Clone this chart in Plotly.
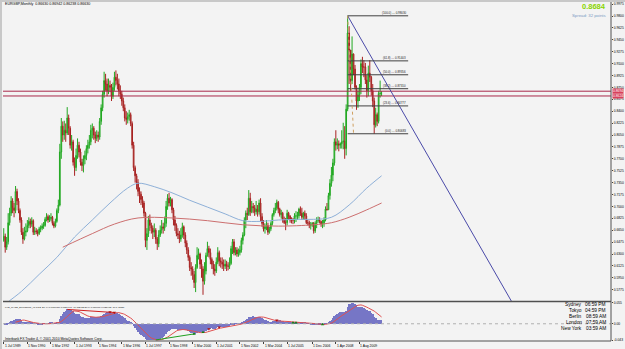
import plotly.graph_objects as go
import pandas as pd

W, H = 625, 349

# ---------------- data (monthly EURGBP, Jul 1989 .. Nov 2010) ----------------
first_open = 0.650
close = [
    0.656, 0.640, 0.648, 0.676, 0.690, 0.708,
    0.698, 0.694, 0.722, 0.708, 0.694, 0.680, 0.662, 0.652, 0.662, 0.664, 0.672, 0.678,
    0.674, 0.679, 0.662, 0.664, 0.663, 0.660, 0.667, 0.668, 0.671, 0.672, 0.681, 0.685,
    0.680, 0.682, 0.684, 0.675, 0.671, 0.678, 0.694, 0.702, 0.780, 0.818, 0.805, 0.812,
    0.808, 0.830, 0.815, 0.790, 0.795, 0.765, 0.757, 0.775, 0.790, 0.780, 0.765, 0.760,
    0.770, 0.775, 0.785, 0.790, 0.795, 0.812, 0.815, 0.805, 0.800, 0.805, 0.802, 0.825,
    0.845, 0.865, 0.885, 0.880, 0.870, 0.878, 0.875, 0.862, 0.875, 0.890, 0.885, 0.880,
    0.870, 0.865, 0.855, 0.845, 0.830, 0.828, 0.832, 0.835, 0.822, 0.790, 0.757, 0.745,
    0.735, 0.722, 0.718, 0.710, 0.705, 0.690, 0.650, 0.660, 0.680, 0.672, 0.668, 0.662,
    0.665, 0.652, 0.645, 0.658, 0.665, 0.670, 0.668, 0.675, 0.700, 0.712, 0.705, 0.710,
    0.695, 0.680, 0.672, 0.660, 0.658, 0.652, 0.658, 0.670, 0.658, 0.646, 0.636, 0.625,
    0.610, 0.608, 0.600, 0.588, 0.610, 0.628, 0.630, 0.615, 0.608, 0.590, 0.605, 0.628,
    0.638, 0.632, 0.622, 0.615, 0.608, 0.605, 0.618, 0.632, 0.620, 0.618, 0.615, 0.612,
    0.615, 0.612, 0.612, 0.616, 0.638, 0.648, 0.632, 0.636, 0.630, 0.632, 0.636, 0.650,
    0.658, 0.680, 0.690, 0.688, 0.712, 0.692, 0.700, 0.698, 0.692, 0.696, 0.692, 0.705,
    0.685, 0.675, 0.667, 0.670, 0.672, 0.662, 0.667, 0.675, 0.688, 0.694, 0.698, 0.706,
    0.696, 0.688, 0.690, 0.680, 0.676, 0.676, 0.690, 0.686, 0.680, 0.680, 0.680, 0.686,
    0.686, 0.686, 0.696, 0.690, 0.684, 0.690, 0.686, 0.676, 0.676, 0.672, 0.673, 0.675,
    0.664, 0.675, 0.680, 0.680, 0.678, 0.674, 0.675, 0.680, 0.696, 0.695, 0.716, 0.734,
    0.746, 0.764, 0.795, 0.790, 0.792, 0.790, 0.792, 0.795, 0.796, 0.785, 0.843, 0.955,
    0.930, 0.885, 0.924, 0.902, 0.875, 0.855, 0.864, 0.875, 0.910, 0.905, 0.905, 0.886,
    0.870, 0.896, 0.890, 0.870, 0.855, 0.820, 0.835, 0.825, 0.866, 0.8663, 0.8663,
]
high = [
    0.668, 0.660, 0.655, 0.690, 0.698, 0.715,
    0.712, 0.705, 0.730, 0.726, 0.712, 0.697, 0.684, 0.668, 0.670, 0.675, 0.680, 0.684,
    0.682, 0.684, 0.681, 0.670, 0.668, 0.666, 0.670, 0.672, 0.675, 0.677, 0.684, 0.690,
    0.688, 0.687, 0.690, 0.686, 0.678, 0.682, 0.697, 0.710, 0.792, 0.830, 0.825, 0.826,
    0.822, 0.846, 0.835, 0.818, 0.805, 0.798, 0.772, 0.785, 0.800, 0.795, 0.785, 0.770,
    0.775, 0.782, 0.790, 0.798, 0.805, 0.820, 0.822, 0.818, 0.810, 0.812, 0.810, 0.830,
    0.850, 0.870, 0.898, 0.895, 0.888, 0.888, 0.885, 0.880, 0.882, 0.898, 0.900, 0.895,
    0.888, 0.878, 0.870, 0.860, 0.850, 0.840, 0.838, 0.842, 0.838, 0.825, 0.795, 0.760,
    0.748, 0.740, 0.728, 0.722, 0.715, 0.708, 0.692, 0.668, 0.686, 0.688, 0.676, 0.672,
    0.675, 0.668, 0.655, 0.665, 0.672, 0.680, 0.676, 0.685, 0.708, 0.718, 0.720, 0.714,
    0.712, 0.698, 0.686, 0.675, 0.668, 0.664, 0.668, 0.676, 0.672, 0.662, 0.650, 0.640,
    0.628, 0.618, 0.612, 0.605, 0.615, 0.640, 0.638, 0.632, 0.622, 0.612, 0.618, 0.632,
    0.648, 0.642, 0.638, 0.625, 0.620, 0.615, 0.625, 0.640, 0.635, 0.625, 0.625, 0.622,
    0.622, 0.620, 0.618, 0.625, 0.642, 0.652, 0.652, 0.640, 0.640, 0.638, 0.642, 0.654,
    0.662, 0.684, 0.694, 0.698, 0.724, 0.720, 0.708, 0.705, 0.702, 0.708, 0.702, 0.710,
    0.712, 0.690, 0.680, 0.675, 0.680, 0.676, 0.670, 0.678, 0.690, 0.698, 0.705, 0.710,
    0.708, 0.698, 0.695, 0.692, 0.685, 0.683, 0.695, 0.692, 0.687, 0.684, 0.683, 0.690,
    0.693, 0.692, 0.698, 0.700, 0.698, 0.692, 0.694, 0.690, 0.680, 0.679, 0.677, 0.677,
    0.677, 0.678, 0.684, 0.685, 0.684, 0.679, 0.680, 0.684, 0.700, 0.705, 0.720, 0.740,
    0.758, 0.770, 0.800, 0.812, 0.800, 0.797, 0.794, 0.812, 0.823, 0.818, 0.850, 0.9803,
    0.965, 0.920, 0.950, 0.925, 0.908, 0.878, 0.870, 0.880, 0.916, 0.920, 0.915, 0.911,
    0.893, 0.907, 0.915, 0.892, 0.880, 0.860, 0.845, 0.838, 0.870, 0.885, 0.8694,
]
low = [
    0.648, 0.632, 0.636, 0.644, 0.672, 0.686,
    0.690, 0.684, 0.690, 0.702, 0.690, 0.676, 0.658, 0.645, 0.650, 0.656, 0.662, 0.668,
    0.668, 0.670, 0.658, 0.658, 0.659, 0.656, 0.658, 0.662, 0.665, 0.667, 0.670, 0.678,
    0.676, 0.677, 0.678, 0.672, 0.668, 0.669, 0.676, 0.690, 0.700, 0.770, 0.795, 0.798,
    0.795, 0.805, 0.805, 0.785, 0.782, 0.760, 0.745, 0.752, 0.770, 0.772, 0.760, 0.752,
    0.750, 0.762, 0.768, 0.778, 0.785, 0.790, 0.800, 0.798, 0.793, 0.796, 0.795, 0.798,
    0.820, 0.840, 0.860, 0.870, 0.862, 0.865, 0.868, 0.855, 0.858, 0.870, 0.878, 0.872,
    0.862, 0.858, 0.848, 0.840, 0.825, 0.820, 0.822, 0.826, 0.818, 0.785, 0.752, 0.735,
    0.725, 0.715, 0.705, 0.702, 0.698, 0.685, 0.640, 0.636, 0.655, 0.664, 0.660, 0.652,
    0.655, 0.645, 0.636, 0.640, 0.655, 0.660, 0.660, 0.664, 0.670, 0.695, 0.700, 0.700,
    0.690, 0.672, 0.664, 0.656, 0.652, 0.646, 0.648, 0.654, 0.652, 0.640, 0.630, 0.620,
    0.605, 0.598, 0.592, 0.580, 0.574, 0.608, 0.622, 0.608, 0.595, 0.570, 0.585, 0.600,
    0.626, 0.625, 0.615, 0.608, 0.600, 0.598, 0.602, 0.615, 0.612, 0.610, 0.608, 0.605,
    0.608, 0.605, 0.606, 0.608, 0.614, 0.630, 0.628, 0.628, 0.626, 0.626, 0.628, 0.632,
    0.644, 0.656, 0.668, 0.680, 0.686, 0.686, 0.690, 0.690, 0.686, 0.688, 0.685, 0.688,
    0.678, 0.670, 0.663, 0.660, 0.665, 0.658, 0.660, 0.664, 0.672, 0.685, 0.690, 0.694,
    0.690, 0.685, 0.682, 0.676, 0.674, 0.665, 0.672, 0.680, 0.676, 0.675, 0.674, 0.675,
    0.677, 0.680, 0.682, 0.686, 0.680, 0.680, 0.680, 0.674, 0.672, 0.668, 0.666, 0.670,
    0.660, 0.661, 0.668, 0.676, 0.675, 0.670, 0.668, 0.670, 0.678, 0.694, 0.695, 0.710,
    0.729, 0.737, 0.760, 0.782, 0.784, 0.781, 0.785, 0.785, 0.784, 0.770, 0.775, 0.840,
    0.880, 0.870, 0.880, 0.893, 0.872, 0.842, 0.845, 0.855, 0.865, 0.896, 0.890, 0.880,
    0.860, 0.862, 0.883, 0.863, 0.846, 0.8068, 0.816, 0.818, 0.822, 0.860, 0.8624,
]

# moving averages (month index, price)
ma_blue_idx = [0, 12, 24, 36, 48, 60, 72, 84, 91, 102, 114, 126, 138, 150, 162, 174, 186, 198, 210, 222, 234, 246, 256]
ma_blue_val = [0.555, 0.575, 0.600, 0.625, 0.655, 0.680, 0.705, 0.727, 0.734, 0.729, 0.720, 0.709, 0.699, 0.689, 0.679, 0.678, 0.680, 0.681, 0.681, 0.684, 0.702, 0.727, 0.745]
ma_red_idx = [40, 60, 75, 91, 114, 138, 162, 186, 210, 222, 234, 246, 256]
ma_red_val = [0.640, 0.660, 0.674, 0.683, 0.683, 0.679, 0.673, 0.671, 0.673, 0.676, 0.684, 0.695, 0.705]

# time-axis labels
label_idx = [0, 16, 32, 48, 64, 80, 96, 112, 128, 144, 160, 176, 192, 209, 225, 241]
label_text = ["1 Jul 1989", "1 Nov 1990", "1 Mar 1992", "1 Jul 1993", "1 Nov 1994", "1 Mar 1996",
              "1 Jul 1997", "1 Nov 1998", "1 Mar 2000", "1 Jul 2001", "1 Nov 2002", "1 Mar 2004",
              "1 Jul 2005", "1 Dec 2006", "1 Apr 2008", "1 Aug 2009"]

# price-axis ticks
price_ticks = [0.5600 + 0.0175 * k for k in range(26)]

# fibonacci retracement
fib_start_idx, fib_end_idx = 233, 274
fib_high, fib_low = 0.98030, 0.80683
fib_levels = [100.0, 61.8, 50.0, 38.2, 23.6, 0.0]
fib_diag_idx = [233, 237]

# trend line and horizontal lines
trend_idx = [233, 350]
trend_price = [0.98030, 0.5377]
hlines = [0.86942, 0.86238]

# divergence marks (month indices)
div_red_idx = [43, 75]
div_green_idx = [103, 129]
mark_red_idx = [72, 75, 139, 146, 185]
mark_green_idx = [129, 135, 196, 198, 216]

title_text = "EURGBP,Monthly  0.86630 0.86942 0.86238 0.86630"
macd_title = "FXS_MACD_Divergence_v1.1(12, 26, 9) 0.0109089 0.0214649  MACD(12,26,9) 0.010909 0.021465  Pr k: Close"
copyright_text = "Interbank FX Trader 4, \u00a9 2001-2010 MetaQuotes Software Corp."
bid_text = "0.8684"
spread_text = "Spread: 32 points"
clock_names = ["Sydney", "Tokyo", "Berlin", "London", "New York"]
clock_times = ["06:59 PM", "04:59 PM", "08:59 AM", "07:59 AM", "03:59 AM"]

# ---------------- derived ----------------
n = len(close)
idx = list(range(n))
opens = [first_open] + close[:-1]
s = pd.Series(close)
macd = s.ewm(span=12, adjust=False).mean() - s.ewm(span=26, adjust=False).mean()
signal = macd.rolling(9).mean()

FONT = "Liberation Sans, Arial, sans-serif"
X_LEFT, X_RIGHT = 3, 611
MAIN_TOP, MAIN_BOT = 2, 301
SUB_TOP, SUB_BOT = 302, 341
PX_PER_BAR = 1.476
x_range = [-0.5, -0.5 + (X_RIGHT - X_LEFT) / PX_PER_BAR]
PPX = 0.0175 / 11.9  # price per pixel
y_range = [0.98 - (MAIN_BOT - 16) * PPX, 0.98 + (16 - MAIN_TOP) * PPX]


def px(x):
    return x / W


def py(y):
    return 1 - y / H


fig = go.Figure()

fig.add_trace(go.Candlestick(
    x=idx, open=opens, high=high, low=low, close=close,
    increasing=dict(line=dict(color="#22a822", width=1), fillcolor="#90d890"),
    decreasing=dict(line=dict(color="#a82222", width=1), fillcolor="#b88a6a"),
    whiskerwidth=0, xaxis="x", yaxis="y", showlegend=False, hoverinfo="skip"))

fig.add_trace(go.Scatter(x=ma_blue_idx, y=ma_blue_val, mode="lines", line=dict(color="#8eb0d8", width=1),
                         line_shape="spline", xaxis="x", yaxis="y", showlegend=False, hoverinfo="skip"))
fig.add_trace(go.Scatter(x=ma_red_idx, y=ma_red_val, mode="lines", line=dict(color="#cc6f6f", width=1),
                         line_shape="spline", xaxis="x", yaxis="y", showlegend=False, hoverinfo="skip"))

for lv in hlines:
    fig.add_trace(go.Scatter(x=x_range, y=[lv, lv], mode="lines", line=dict(color="#a8284a", width=1),
                             xaxis="x", yaxis="y", showlegend=False, hoverinfo="skip"))

fig.add_trace(go.Scatter(x=trend_idx, y=trend_price, mode="lines", line=dict(color="#4a4aa8", width=1),
                         xaxis="x", yaxis="y", showlegend=False, hoverinfo="skip"))

fib_prices = [fib_low + (fib_high - fib_low) * lv / 100.0 for lv in fib_levels]
for lv, pr in zip(fib_levels, fib_prices):
    fig.add_trace(go.Scatter(x=[fib_start_idx, fib_end_idx], y=[pr, pr], mode="lines",
                             line=dict(color="#404040", width=1), xaxis="x", yaxis="y",
                             showlegend=False, hoverinfo="skip"))
fig.add_trace(go.Scatter(x=fib_diag_idx, y=[fib_high, fib_low], mode="lines",
                         line=dict(color="#d0a060", width=1, dash="dot"), xaxis="x", yaxis="y",
                         showlegend=False, hoverinfo="skip"))

# MACD pane
fig.add_trace(go.Bar(x=idx, y=macd, marker=dict(color="#7676c6", line=dict(width=0)), width=0.5,
                     xaxis="x2", yaxis="y2", showlegend=False, hoverinfo="skip"))
fig.add_trace(go.Scatter(x=idx, y=signal, mode="lines", line=dict(color="#e05050", width=1),
                         xaxis="x2", yaxis="y2", showlegend=False, hoverinfo="skip"))
fig.add_trace(go.Scatter(x=[x_range[0], x_range[1]], y=[0, 0], mode="lines",
                         line=dict(color="#b0b0b0", width=1, dash="dot"),
                         xaxis="x2", yaxis="y2", showlegend=False, hoverinfo="skip"))
fig.add_trace(go.Scatter(x=div_red_idx, y=[macd[i] for i in div_red_idx], mode="lines",
                         line=dict(color="#d02020", width=1), xaxis="x2", yaxis="y2",
                         showlegend=False, hoverinfo="skip"))
fig.add_trace(go.Scatter(x=div_green_idx, y=[macd[i] for i in div_green_idx], mode="lines",
                         line=dict(color="#20a020", width=1), xaxis="x2", yaxis="y2",
                         showlegend=False, hoverinfo="skip"))
fig.add_trace(go.Scatter(x=mark_red_idx, y=[macd[i] for i in mark_red_idx], mode="markers",
                         marker=dict(color="#b01010", size=3, symbol="triangle-down"),
                         xaxis="x2", yaxis="y2", showlegend=False, hoverinfo="skip"))
fig.add_trace(go.Scatter(x=mark_green_idx, y=[macd[i] for i in mark_green_idx], mode="markers",
                         marker=dict(color="#108010", size=3, symbol="triangle-up"),
                         xaxis="x2", yaxis="y2", showlegend=False, hoverinfo="skip"))

mmax, mmin = float(macd.max()), float(macd.min())
pad = (mmax - mmin) * 0.02

annotations = []
annotations.append(dict(x=px(3), y=py(4.5), xref="paper", yref="paper", text=title_text, showarrow=False,
                        xanchor="left", yanchor="middle", font=dict(family=FONT, size=3.6, color="#000000")))
annotations.append(dict(x=px(608), y=py(6.5), xref="paper", yref="paper", text="<b>" + bid_text + "</b>",
                        showarrow=False, xanchor="right", yanchor="middle",
                        font=dict(family=FONT, size=7.5, color="#8ad400")))
annotations.append(dict(x=px(608), y=py(15), xref="paper", yref="paper", text=spread_text,
                        showarrow=False, xanchor="right", yanchor="middle",
                        font=dict(family=FONT, size=4.3, color="#7c9cc4")))
for lv, pr in zip(fib_levels, fib_prices):
    annotations.append(dict(x=fib_end_idx, y=pr, xref="x", yref="y",
                            text="(%.1f) --- %.5f" % (lv, pr), showarrow=False,
                            xanchor="right", yanchor="bottom", yshift=-1,
                            font=dict(family=FONT, size=2.9, color="#202020")))
for lv in hlines:
    annotations.append(dict(x=px(X_RIGHT + 1), y=lv, xref="paper", yref="y", text="%.4f" % lv,
                            showarrow=False, xanchor="left", yanchor="middle", bgcolor="#d8405a",
                            borderpad=0, font=dict(family=FONT, size=3.3, color="#ffffff")))
for i, t in zip(label_idx, label_text):
    annotations.append(dict(x=i, y=py(345.5), xref="x2", yref="paper", text=t, showarrow=False,
                            xanchor="left", yanchor="middle", xshift=-1,
                            font=dict(family=FONT, size=3.4, color="#000000")))
annotations.append(dict(x=px(3), y=py(307), xref="paper", yref="paper", text=macd_title, showarrow=False,
                        xanchor="left", yanchor="middle", font=dict(family=FONT, size=2.4, color="#000000")))
annotations.append(dict(x=px(3), y=py(338.5), xref="paper", yref="paper", text=copyright_text,
                        showarrow=False, xanchor="left", yanchor="middle",
                        font=dict(family=FONT, size=3.4, color="#000000")))
for k, (nm, tm) in enumerate(zip(clock_names, clock_times)):
    yy = 304.5 + k * 6
    annotations.append(dict(x=px(584), y=py(yy), xref="paper", yref="paper", text=nm, showarrow=False,
                            xanchor="right", yanchor="middle", font=dict(family=FONT, size=4.8, color="#000000")))
    annotations.append(dict(x=px(608), y=py(yy), xref="paper", yref="paper", text=tm, showarrow=False,
                            xanchor="right", yanchor="middle", font=dict(family=FONT, size=4.8, color="#000000")))

shapes = [
    dict(type="rect", xref="paper", yref="paper", x0=0, x1=1, y0=py(2), y1=1, fillcolor="#c8c8c8",
         line=dict(width=0), layer="above"),
    dict(type="rect", xref="paper", yref="paper", x0=0, x1=px(2), y0=0, y1=1, fillcolor="#c8c8c8",
         line=dict(width=0), layer="above"),
    dict(type="line", xref="paper", yref="paper", x0=px(X_RIGHT), x1=px(X_RIGHT), y0=py(MAIN_TOP), y1=py(SUB_BOT),
         line=dict(color="#505050", width=1), layer="above"),
    dict(type="line", xref="paper", yref="paper", x0=px(X_LEFT), x1=px(X_RIGHT), y0=py(MAIN_BOT + 0.5), y1=py(MAIN_BOT + 0.5),
         line=dict(color="#505050", width=1.5), layer="above"),
    dict(type="line", xref="paper", yref="paper", x0=px(X_LEFT), x1=px(X_RIGHT), y0=py(SUB_BOT), y1=py(SUB_BOT),
         line=dict(color="#505050", width=1), layer="above"),
]

fig.update_layout(
    width=W, height=H, margin=dict(l=0, r=0, t=0, b=0, autoexpand=False),
    paper_bgcolor="#f3f3f3", plot_bgcolor="#f3f3f3",
    showlegend=False, bargap=0,
    xaxis=dict(domain=[px(X_LEFT), px(X_RIGHT)], range=x_range, showgrid=False, zeroline=False,
               showticklabels=False, ticks="", rangeslider=dict(visible=False), anchor="y", automargin=False),
    yaxis=dict(domain=[py(MAIN_BOT), py(MAIN_TOP)], range=y_range, side="right", showgrid=False,
               zeroline=False, tickvals=price_ticks, ticktext=["%.4f" % v for v in price_ticks],
               ticks="outside", ticklen=1, tickcolor="#404040", tickfont=dict(family=FONT, size=3.3, color="#000000"),
               anchor="x", automargin=False),
    xaxis2=dict(domain=[px(X_LEFT), px(X_RIGHT)], range=x_range, showgrid=False, zeroline=False,
                tickvals=label_idx, ticks="outside", ticklen=2, tickcolor="#404040", showticklabels=False,
                anchor="y2", automargin=False),
    yaxis2=dict(domain=[py(SUB_BOT), py(SUB_TOP)], range=[mmin - pad, mmax + pad], side="right",
                showgrid=False, zeroline=False, tickvals=[mmax, 0, mmin],
                ticktext=["%.3f" % mmax, "0.00", "%.3f" % mmin], ticks="outside", ticklen=1,
                tickcolor="#404040", tickfont=dict(family=FONT, size=3.3, color="#000000"), anchor="x2",
                automargin=False),
    annotations=annotations, shapes=shapes,
)

fig.write_html("out.html")
